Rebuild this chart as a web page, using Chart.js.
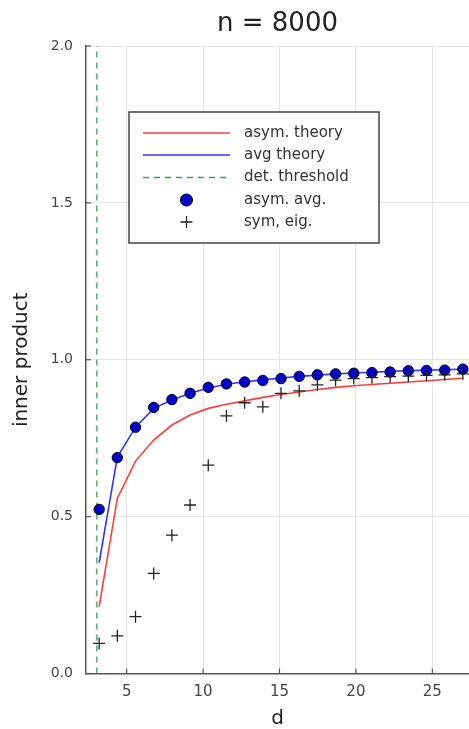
<!DOCTYPE html>
<html>
<head>
<meta charset="utf-8">
<script src="https://cdn.jsdelivr.net/npm/chart.js@4.4.1/dist/chart.umd.min.js"></script>
<style>
  html, body { margin: 0; padding: 0; background: #fff; }
  #c { display: block; }
</style>
</head>
<body>
<canvas id="c" width="469" height="729"></canvas>
<script>
// ---- data ----
const dValues = [3.2, 4.39, 5.58, 6.77, 7.96, 9.15, 10.34, 11.53, 12.72, 13.91, 15.1, 16.29, 17.48, 18.67, 19.86, 21.05, 22.24, 23.43, 24.62, 25.81, 27.0];
const asymTheory = [0.213, 0.558, 0.677, 0.744, 0.792, 0.824, 0.845, 0.858, 0.869, 0.880, 0.889, 0.897, 0.905, 0.912, 0.917, 0.921, 0.925, 0.929, 0.933, 0.937, 0.941];
const avgTheory = [0.353, 0.690, 0.785, 0.845, 0.872, 0.893, 0.910, 0.922, 0.930, 0.936, 0.942, 0.947, 0.951, 0.955, 0.958, 0.960, 0.963, 0.965, 0.967, 0.968, 0.970];
const asymAvg = [0.523, 0.688, 0.785, 0.848, 0.873, 0.893, 0.912, 0.923, 0.929, 0.934, 0.940, 0.947, 0.952, 0.955, 0.957, 0.959, 0.961, 0.965, 0.966, 0.967, 0.970];
const symEig = [0.096, 0.120, 0.181, 0.319, 0.441, 0.537, 0.664, 0.821, 0.863, 0.850, 0.893, 0.901, 0.920, 0.935, 0.940, 0.943, 0.946, 0.948, 0.950, 0.952, 0.955];
const thresholdD = 3.05;
const thresholdY = [0, 2];
const xTicks = [5, 10, 15, 20, 25];
const yTicks = [0, 0.5, 1.0, 1.5, 2.0];
const seriesNames = ["asym. theory", "avg theory", "det. threshold", "asym. avg.", "sym, eig."];
const titleText = "n = 8000";
const xLabel = "d";
const yLabel = "inner product";

const pts = (ys) => dValues.map((d, i) => ({ x: d, y: ys[i] }));

const RED = "#ff3c3c", BLUE = "#3535ff", GREEN = "#3aa04e", DOT = "#0000d0", AX = "#555555";
const FONT = "'DejaVu Sans', sans-serif";

const plotTitle = {
  id: "plotTitle",
  afterDraw(chart) {
    const { ctx, chartArea: a } = chart;
    ctx.save();
    ctx.fillStyle = "#222"; ctx.font = "26px " + FONT;
    ctx.textAlign = "center"; ctx.textBaseline = "middle";
    ctx.fillText(titleText, (a.left + a.right) / 2, 24.5);
    ctx.restore();
  }
};

const insideTicks = {
  id: "insideTicks",
  afterDraw(chart) {
    const { ctx, chartArea: a, scales } = chart;
    ctx.save();
    ctx.strokeStyle = AX; ctx.lineWidth = 1.2;
    xTicks.forEach(v => {
      const x = scales.x.getPixelForValue(v);
      ctx.beginPath(); ctx.moveTo(x, a.bottom); ctx.lineTo(x, a.bottom - 5); ctx.stroke();
    });
    yTicks.forEach(v => {
      const y = scales.y.getPixelForValue(v);
      ctx.beginPath(); ctx.moveTo(a.left, y); ctx.lineTo(a.left + 5, y); ctx.stroke();
    });
    ctx.restore();
  }
};

const boxLegend = {
  id: "boxLegend",
  afterDraw(chart) {
    const { ctx, chartArea: a } = chart;
    const L = a.left + 43, T = a.top + 66, W = 250, H = 131;
    ctx.save();
    ctx.fillStyle = "#fff";
    ctx.fillRect(L, T, W, H);
    ctx.strokeStyle = "#444"; ctx.lineWidth = 1.5;
    ctx.strokeRect(L, T, W, H);
    const x0 = L + 14, x1 = L + 101, tx = L + 115;
    const rows = [T + 21, T + 43, T + 65.5, T + 88, T + 110];
    ctx.lineWidth = 1.6;
    ctx.strokeStyle = RED; ctx.beginPath(); ctx.moveTo(x0, rows[0]); ctx.lineTo(x1, rows[0]); ctx.stroke();
    ctx.strokeStyle = BLUE; ctx.beginPath(); ctx.moveTo(x0, rows[1]); ctx.lineTo(x1, rows[1]); ctx.stroke();
    ctx.strokeStyle = GREEN; ctx.setLineDash([6, 5]); ctx.beginPath(); ctx.moveTo(x0, rows[2]); ctx.lineTo(x1, rows[2]); ctx.stroke();
    ctx.setLineDash([]);
    const cx = (x0 + x1) / 2;
    ctx.fillStyle = DOT; ctx.strokeStyle = "#000"; ctx.lineWidth = 1;
    ctx.beginPath(); ctx.arc(cx, rows[3], 6, 0, Math.PI * 2); ctx.fill(); ctx.stroke();
    ctx.strokeStyle = "#222"; ctx.lineWidth = 1.3;
    ctx.beginPath(); ctx.moveTo(cx - 6, rows[4]); ctx.lineTo(cx + 6, rows[4]);
    ctx.moveTo(cx, rows[4] - 6); ctx.lineTo(cx, rows[4] + 6); ctx.stroke();
    ctx.fillStyle = "#333"; ctx.font = "15px " + FONT; ctx.textBaseline = "middle"; ctx.textAlign = "left";
    seriesNames.forEach((n, i) => ctx.fillText(n, tx, rows[i]));
    ctx.restore();
  }
};

new Chart(document.getElementById("c"), {
  type: "scatter",
  data: {
    datasets: [
      { label: seriesNames[4], data: pts(symEig), pointStyle: "cross", pointRadius: 6, pointBorderColor: "#222", pointBorderWidth: 1.3, showLine: false, order: 0 },
      { label: seriesNames[3], data: pts(asymAvg), pointStyle: "circle", pointRadius: 5.2, pointBackgroundColor: DOT, pointBorderColor: "#000", pointBorderWidth: 1, showLine: false, order: 1 },
      { label: seriesNames[2], data: thresholdY.map(y => ({ x: thresholdD, y })), showLine: true, borderColor: GREEN, borderWidth: 1.3, borderDash: [6, 5], pointRadius: 0, order: 2 },
      { label: seriesNames[1], data: pts(avgTheory), showLine: true, borderColor: BLUE, borderWidth: 1.6, pointRadius: 0, order: 3 },
      { label: seriesNames[0], data: pts(asymTheory), showLine: true, borderColor: RED, borderWidth: 1.6, pointRadius: 0, order: 4 }
    ]
  },
  options: {
    responsive: false,
    animation: false,
    devicePixelRatio: 1,
    layout: { padding: { top: 46, left: 0, right: 0, bottom: 0 }, autoPadding: false },
    plugins: {
      legend: { display: false },
      tooltip: { enabled: false },
      title: { display: false }
    },
    scales: {
      x: {
        type: "linear", min: 2.34, max: 27.4,
        afterBuildTicks: s => { s.ticks = xTicks.map(v => ({ value: v })); },
        afterFit: s => { s.height = 55.5; s.paddingLeft = 0; s.paddingRight = 0; },
        grid: { color: "#e4e4e4", lineWidth: 1, drawTicks: false },
        border: { color: AX, width: 1.5 },
        ticks: { color: "#444", font: { family: FONT, size: 15 }, padding: 10, maxRotation: 0 },
        title: { display: true, text: xLabel, color: "#222", font: { family: FONT, size: 20 }, padding: { top: 0, bottom: -2 } }
      },
      y: {
        type: "linear", min: 0, max: 2,
        afterBuildTicks: s => { s.ticks = yTicks.map(v => ({ value: v })); },
        afterFit: s => { s.width = 86; s.paddingTop = 0; s.paddingBottom = 0; },
        grid: { color: "#e4e4e4", lineWidth: 1, drawTicks: false },
        border: { color: AX, width: 1.5 },
        ticks: { color: "#444", font: { family: FONT, size: 14 }, padding: 13, callback: v => v.toFixed(1) },
        title: { display: true, text: yLabel, color: "#222", font: { family: FONT, size: 20 }, padding: { top: 10, bottom: 0 } }
      }
    }
  },
  plugins: [plotTitle, insideTicks, boxLegend]
});
</script>
</body>
</html>
